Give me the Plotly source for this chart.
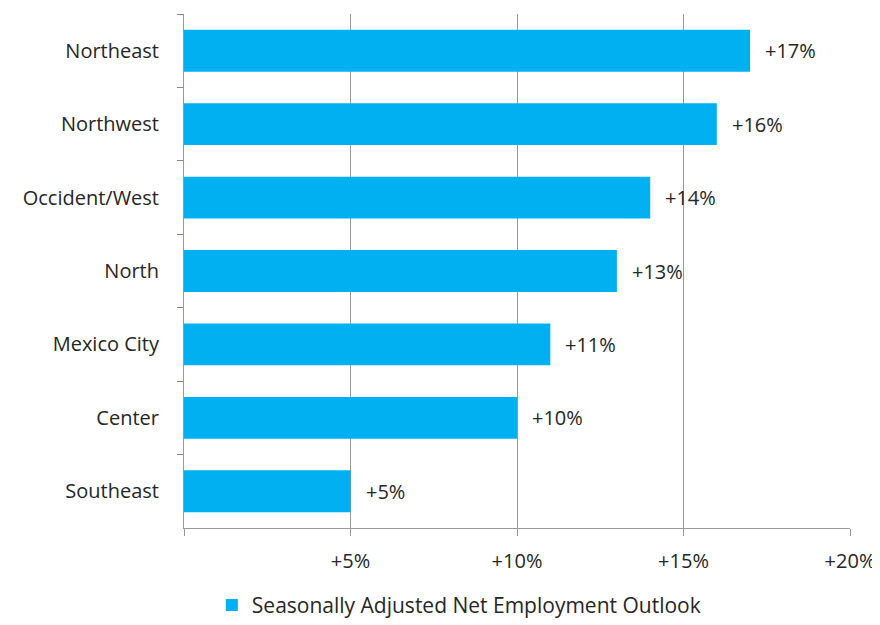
import plotly.graph_objects as go

regions = ["Northeast", "Northwest", "Occident/West", "North", "Mexico City", "Center", "Southeast"]
outlook = [17, 16, 14, 13, 11, 10, 5]
x_tickvals = [0, 5, 10, 15, 20]
x_ticktext = ["", "+5%", "+10%", "+15%", "+20%"]
series_name = "Seasonally Adjusted Net Employment Outlook"

FONT = "Open Sans, Liberation Sans, sans-serif"
TXT = "#262626"
fig = go.Figure()
fig.add_trace(go.Bar(
    x=outlook, y=regions, orientation="h", name=series_name,
    marker=dict(color="#00B0F0", line=dict(width=0)), width=0.57,
    showlegend=True,
))
for r, v in zip(regions, outlook):
    fig.add_annotation(x=v, y=r, text=f"+{v}%", showarrow=False, xanchor="left",
                       xshift=13, font=dict(family=FONT, size=20, color=TXT))

fig.update_layout(
    width=872, height=617, plot_bgcolor="white", paper_bgcolor="white",
    margin=dict(l=176, r=30, t=6, b=97),
    font=dict(family=FONT, size=20, color=TXT),
    showlegend=True,
    legend=dict(orientation="h", x=0.517, xref="container", xanchor="center",
                y=0.032, yref="container", yanchor="middle",
                font=dict(size=21), itemwidth=30),
)
fig.update_xaxes(range=[0, 20], tickvals=x_tickvals, ticktext=x_ticktext,
                 showgrid=True, gridcolor="#999999", gridwidth=1,
                 showline=True, linecolor="#999999", linewidth=1,
                 ticks="outside", ticklen=7, tickcolor="#999999", zeroline=False,
                 ticklabelstandoff=8, tickfont=dict(size=20))
fig.update_yaxes(categoryorder="array", categoryarray=regions, autorange="reversed",
                 showline=True, linecolor="#999999", linewidth=1,
                 ticks="outside", ticklen=6, tickcolor="#A08070", tickson="boundaries",
                 ticklabelstandoff=20, tickfont=dict(size=20))
fig.write_html("out.html")
